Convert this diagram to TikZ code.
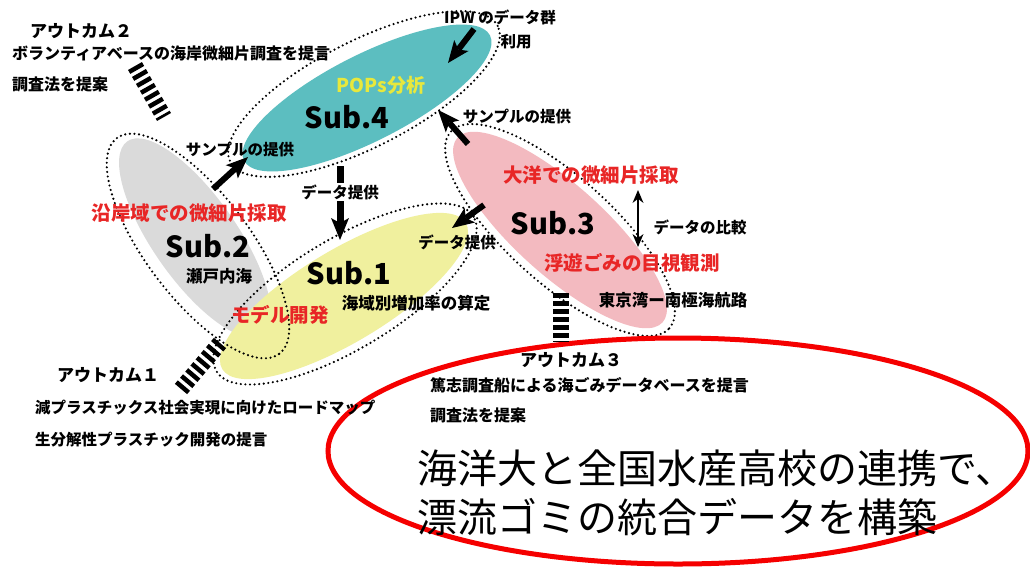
\documentclass[tikz,border=0pt]{standalone}
\usepackage{fontspec}
\setmainfont{Noto Sans CJK JP}
\usetikzlibrary{arrows.meta,shapes.geometric}
\definecolor{tealfill}{RGB}{92,190,192}
\definecolor{grayfill}{RGB}{218,218,218}
\definecolor{yellowfill}{RGB}{240,240,158}
\definecolor{pinkfill}{RGB}{243,186,192}
\definecolor{labred}{RGB}{232,38,38}
\definecolor{popsyellow}{RGB}{232,232,60}
\definecolor{goalred}{RGB}{245,0,0}
\tikzset{
  lbl/.style={font=\bfseries\fontsize{15.5}{17}\selectfont, inner sep=0pt},
  redlbl/.style={font=\bfseries\fontsize{19.5}{21}\selectfont, text=labred, inner sep=0pt},
  subname/.style={font=\bfseries\fontsize{29}{31}\selectfont, inner sep=0pt},
  outtitle/.style={font=\bfseries\fontsize{17}{19}\selectfont, inner sep=0pt},
  fillell/.style={ellipse, inner sep=0pt, draw=none},
  ring/.style={ellipse, inner sep=0pt, draw=black, line width=2.4pt, dash pattern=on 0pt off 4.6pt, line cap=round},
  fat/.style={line width=6pt, -{Stealth[length=22pt,width=18pt,inset=5pt,line width=0pt]}},
  twohead/.style={line width=2.6pt, {Stealth[length=13pt,width=11pt,line width=0pt]}-{Stealth[length=13pt,width=11pt,line width=0pt]}},
  stripes/.style={line width=16pt, dash pattern=on 4.5pt off 3.5pt},
  bigtxt/.style={font=\fontsize{40}{44}\selectfont, inner sep=0pt, anchor=west},
}
\begin{document}
\begin{tikzpicture}[x=1pt,y=-1pt]
\useasboundingbox (0,0) rectangle (1030,568);
\fill[white] (0,0) rectangle (1030,568);

% filled ellipses
\node[fillell, fill=grayfill, minimum width=236pt, minimum height=84pt, rotate=-55] (sub2fill) at (195,238) {};
\node[fillell, fill=yellowfill, minimum width=284pt, minimum height=92pt, rotate=31] (sub1fill) at (344,296) {};
\node[fillell, fill=tealfill, minimum width=276pt, minimum height=86pt, rotate=27] (sub4fill) at (367,98) {};
\node[fillell, fill=pinkfill, minimum width=276pt, minimum height=90pt, rotate=-42] (sub3fill) at (560,230) {};

% dotted rings
\node[ring, minimum width=270pt, minimum height=104pt, rotate=-53] (sub2ring) at (198,246) {};
\node[ring, minimum width=300pt, minimum height=110pt, rotate=31] (sub1ring) at (345,294) {};
\node[ring, minimum width=300pt, minimum height=106pt, rotate=27] (sub4ring) at (364,94) {};
\node[ring, minimum width=294pt, minimum height=106pt, rotate=-42] (sub3ring) at (560,230) {};

% goal ellipse
\node[ellipse, draw=goalred, line width=5pt, inner sep=0pt, minimum width=700pt, minimum height=226pt] (goal) at (678,451) {};

% striped connectors
\coordinate (o2a) at (135,66);
\coordinate (o2b) at (164,117);
\draw[stripes] (o2a) -- (o2b);
\coordinate (o1a) at (181,389);
\coordinate (o1b) at (220,343);
\draw[stripes] (o1a) -- (o1b);
\coordinate (o3a) at (561,293);
\coordinate (o3b) at (561,342);
\draw[stripes] (o3a) -- (o3b);

% arrows
\coordinate (ipwS) at (474,29);
\coordinate (ipwE) at (448,63);
\draw[fat] (ipwS) -- (ipwE);
\coordinate (s3S) at (468,144);
\coordinate (s3E) at (438,110);
\draw[fat] (s3S) -- (s3E);
\coordinate (s2S) at (213,189);
\coordinate (s2E) at (248,157);
\draw[fat] (s2S) -- (s2E);
\coordinate (d4S) at (340,166);
\coordinate (d4E) at (340,240);
\draw[fat, line width=7pt] (d4S) -- (d4E);
\coordinate (d3S) at (484,205);
\coordinate (d3E) at (452,228);
\draw[fat] (d3S) -- (d3E);
\coordinate (cmpS) at (638,190);
\coordinate (cmpE) at (638,247);
\draw[twohead] (cmpS) -- (cmpE);

% labels
\node[outtitle, anchor=west] (out2t) at (30,31) {アウトカム２};
\node[lbl, font=\bfseries\fontsize{16}{18}\selectfont, anchor=west] (out2a) at (12,53) {ボランティアベースの海岸微細片調査を提言};
\node[lbl, font=\bfseries\fontsize{16}{18}\selectfont, anchor=west] (out2b) at (12,84) {調査法を提案};

\node[lbl] (ipw) at (500,17) {IPW のデータ群};
\node[lbl] (riyou) at (516,42) {利用};
\node[font=\bfseries\fontsize{19}{21}\selectfont, text=popsyellow, inner sep=0pt] (pops) at (381,85) {POPs分析};
\node[subname] (sub4) at (347,117) {Sub.4};
\node[lbl] (samp3) at (517,117) {サンプルの提供};
\node[lbl] (samp2) at (240,150) {サンプルの提供};
\node[lbl, fill=white, inner sep=1.5pt] (data4) at (340,192) {データ提供};

\node[redlbl] (ocean) at (591,175) {大洋での微細片採取};
\node[subname] (sub3) at (553,223) {Sub.3};
\node[lbl] (cmp) at (700,227) {データの比較};
\node[redlbl] (visual) at (632,263) {浮遊ごみの目視観測};
\node[lbl, font=\bfseries\fontsize{16.5}{18}\selectfont] (route) at (673,300) {東京湾ー南極海航路};

\node[redlbl] (coast) at (189,213) {沿岸域での微細片採取};
\node[subname] (sub2) at (208,246) {Sub.2};
\node[lbl, font=\bfseries\fontsize{16.5}{18}\selectfont] (seto) at (219,276) {瀬戸内海};
\node[redlbl] (model) at (280,315) {モデル開発};
\node[subname] (sub1) at (349,273) {Sub.1};
\node[lbl, font=\bfseries\fontsize{16.5}{18}\selectfont] (rate) at (416,303) {海域別増加率の算定};
\node[lbl] (data3) at (457,242) {データ提供};

\node[outtitle, anchor=west] (out1t) at (57,375) {アウトカム１};
\node[lbl, anchor=west] (out1a) at (35,408) {減プラスチックス社会実現に向けたロードマップ};
\node[lbl, anchor=west] (out1b) at (35,440) {生分解性プラスチック開発の提言};

\node[outtitle, anchor=west] (out3t) at (520,360) {アウトカム３};
\node[lbl, font=\bfseries\fontsize{16}{18}\selectfont, anchor=west] (out3a) at (430,385) {篤志調査船による海ごみデータベースを提言};
\node[lbl, font=\bfseries\fontsize{16}{18}\selectfont, anchor=west] (out3b) at (430,415) {調査法を提案};

\node[bigtxt] (goal1) at (417,468) {海洋大と全国水産高校の連携で、};
\node[bigtxt] (goal2) at (417,517) {漂流ゴミの統合データを構築};
\end{tikzpicture}
\end{document}
